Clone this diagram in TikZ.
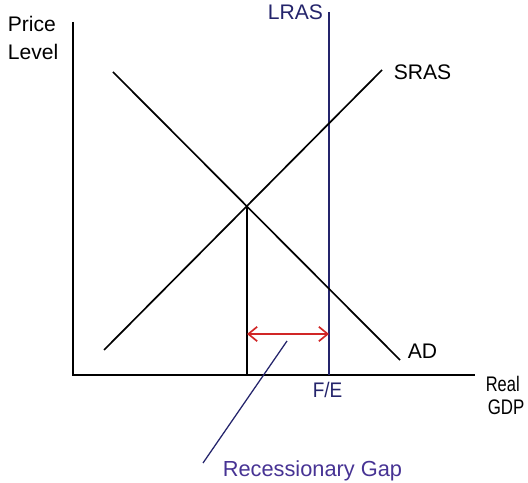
\documentclass[tikz,border=0pt]{standalone}
\usepackage{fontspec}
\setmainfont{Liberation Sans}
\usepackage{xcolor}
\definecolor{GapNavy}{rgb}{0.14, 0.14, 0.42}
\definecolor{GapPurple}{rgb}{0.28, 0.2, 0.58}
\definecolor{GapRed}{rgb}{0.82, 0.15, 0.15}
\usetikzlibrary{arrows.meta}

\begin{document}
\begin{tikzpicture}[font=\fontsize{15pt}{18pt}\selectfont, line width=1.2pt,
    lbl/.style={anchor=base west, inner sep=0pt}]
    \useasboundingbox (0,0) rectangle (13.2,12.075);

    % 1. THE AXES
    \coordinate (origin) at (1.825,2.7);
    \coordinate (ytop) at (1.825,11.525);
    \coordinate (xend) at (11.875,2.7);
    \draw (ytop) -- (origin) -- (xend);
    \node[lbl] (price) at (0.175,11.275) {Price};
    \node[lbl] (level) at (0.175,10.575) {Level};
    \node[lbl] (real) at (12.125,2.275) {\scalebox{0.78}[1]{Real}};
    \node[lbl] (gdp) at (12.175,1.7) {\scalebox{0.8}[1]{GDP}};

    % 2. LONG RUN SUPPLY (full employment)
    \coordinate (lrastop) at (8.225,11.775);
    \coordinate (fe) at (8.225,2.7);
    \draw[GapNavy] (lrastop) -- (fe);
    \node[lbl, text=GapNavy] (lras) at (6.675,11.575) {LRAS};
    \node[anchor=base, inner sep=0pt, text=GapNavy] (felab) at (8.19,2.125) {\scalebox{0.9}[1]{F/E}};

    % 3. SHORT RUN SUPPLY AND DEMAND
    \coordinate (sraslow) at (2.6,3.325);
    \coordinate (srashigh) at (9.55,10.325);
    \draw (sraslow) -- (srashigh);
    \node[lbl] (sras) at (9.825,10.075) {SRAS};
    \coordinate (adhigh) at (2.825,10.275);
    \coordinate (adlow) at (10.0,3.075);
    \draw (adhigh) -- (adlow);
    \node[lbl] (ad) at (10.175,3.1) {AD};

    % 4. EQUILIBRIUM OUTPUT
    \coordinate (eq) at (6.175,6.9);
    \coordinate (eqbase) at (6.175,2.7);
    \draw (eq) -- (eqbase);

    % 5. THE GAP
    \coordinate (gapleft) at (6.175,3.725);
    \coordinate (gapright) at (8.225,3.725);
    \draw[GapRed, {Straight Barb[length=2.2mm, width=3.6mm]}-{Straight Barb[length=2.2mm, width=3.6mm]}]
        (gapleft) -- (gapright);
    \coordinate (pointer) at (7.175,3.55);
    \coordinate (pointerend) at (5.075,0.5);
    \draw[GapNavy, line width=0.9pt] (pointer) -- (pointerend);
    \node[lbl, text=GapPurple, font=\fontsize{15.5pt}{18pt}\selectfont] (gaplab) at (5.55,0.15) {Recessionary Gap};

\end{tikzpicture}
\end{document}
